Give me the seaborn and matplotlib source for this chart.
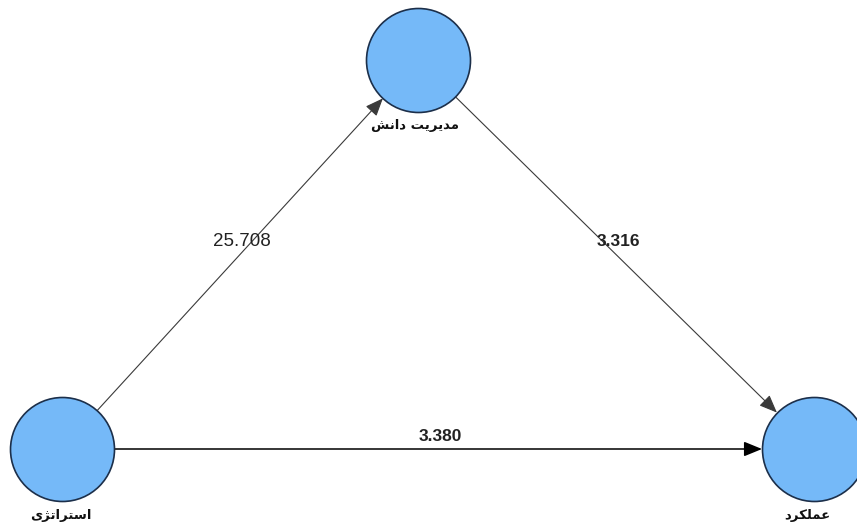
import pandas as pd
import seaborn as sns
from matplotlib import pyplot as plt
from matplotlib.patches import FancyArrowPatch

# node labels, written in visual order with Arabic presentation forms
# (matplotlib does no shaping / bidi), i.e. "استراتژی", "مدیریت دانش", "عملکرد"
node_names = [
    "\uFEEF\uFB8B\uFE97\uFE8D\uFEAE\uFE98\uFEB3\uFE8D",
    "\uFEB6\uFEE7\uFE8D\uFEA9 \uFE96\uFEF3\uFEAE\uFEF3\uFEAA\uFEE3",
    "\uFEA9\uFEAE\uFB91\uFEE0\uFEE4\uFECB",
]
node_x = [62, 418, 814]
node_y = [449, 60, 449]
label_x = [61, 415, 807]

# paths: source index, target index, t-value
edge_from = [0, 1, 0]
edge_to = [1, 2, 2]
edge_values = [25.708, 3.316, 3.380]
edge_bold = [False, True, True]

sns.set_style("white")
plt.rcParams['font.family'] = ['DejaVu Sans']

W, H, DPI = 857, 525, 100
fig = plt.figure(figsize=(W / DPI, H / DPI), dpi=DPI)
ax = fig.add_axes([0, 0, 1, 1])
ax.set_xlim(0, W)
ax.set_ylim(H, 0)
ax.axis("off")

radius_px = 52
radius_pt = radius_px * 72 / DPI

nodes = pd.DataFrame({"x": node_x, "y": node_y, "lx": label_x, "name": node_names})

sns.scatterplot(data=nodes, x="x", y="y", s=(2 * radius_pt) ** 2,
                color="#75b9f8", edgecolor="#1c2f4a", linewidth=1.2,
                legend=False, ax=ax, zorder=3)

# labels under the circles
for _, row in nodes.iterrows():
    ax.text(row.lx, row.y + radius_px + 14, row["name"], ha="center", va="center",
            fontsize=9.5, fontweight="bold", color="#111111", zorder=4)

# arrows and path values
for src, dst, val, bold in zip(edge_from, edge_to, edge_values, edge_bold):
    p1 = (node_x[src], node_y[src])
    p2 = (node_x[dst], node_y[dst])
    horizontal = p1[1] == p2[1]
    arr = FancyArrowPatch(p1, p2, arrowstyle="-|>,head_length=1.1,head_width=0.45",
                          mutation_scale=10, shrinkA=radius_pt, shrinkB=radius_pt,
                          color="black" if horizontal else "#3a3a3a",
                          lw=1.1 if horizontal else 0.8, zorder=2)
    ax.add_patch(arr)
    mx, my = (p1[0] + p2[0]) / 2, (p1[1] + p2[1]) / 2
    ax.annotate(f"{val:.3f}", (mx, my), xytext=(1.5, 9), textcoords="offset points",
                ha="center", va="center", family="Liberation Sans",
                fontsize=12.5 if bold else 13.5,
                fontweight="bold" if bold else "normal", color="#222222", zorder=4)

plt.savefig("out.png", dpi=DPI)
